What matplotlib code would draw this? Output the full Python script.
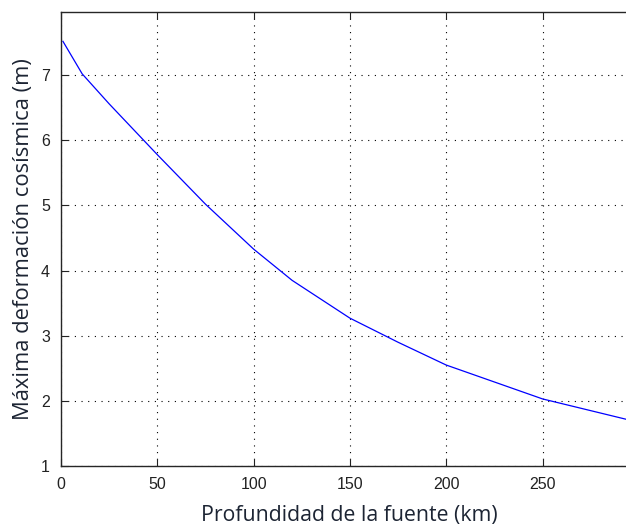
import matplotlib
matplotlib.use("Agg")
import matplotlib.pyplot as plt

depth_km = [1, 11, 25, 50, 75, 100, 120, 150, 175, 200, 250, 300]
max_def_m = [7.52, 7.02, 6.56, 5.78, 5.02, 4.33, 3.85, 3.27, 2.90, 2.55, 2.03, 1.67]
xticks = [0, 50, 100, 150, 200, 250]
yticks = [1, 2, 3, 4, 5, 6, 7]

fig = plt.figure(figsize=(6.26, 5.26), dpi=100)
ax = fig.add_axes([61/626, 60/526, 1 - 61/626 + 0.002, (466-12)/526])

ax.plot(depth_km, max_def_m, color=(0, 0, 1), lw=0.9)
ax.set_xlim(0, 294)
ax.set_ylim(1, 7.97)
ax.set_xticks(xticks)
ax.set_yticks(yticks)
ax.grid(True, color='black', linestyle=(0, (1, 5)), linewidth=0.8)
ax.tick_params(direction='in', length=5, width=0.8, top=True, labelsize=11.5,
               colors='#222222', pad=8)
for lab in ax.get_xticklabels() + ax.get_yticklabels():
    lab.set_family('Liberation Sans')
for s in ['left', 'bottom', 'top']:
    ax.spines[s].set_color('#262626')
    ax.spines[s].set_linewidth(1.0)
ax.spines['right'].set_visible(False)

ax.set_xlabel('Profundidad de la fuente (km)', fontsize=15.3, family='Open Sans',
              color='#1c2433')
ax.xaxis.set_label_coords(0.51, -0.085)
ax.set_ylabel('Máxima deformación cosísmica (m)', fontsize=15.8, family='Open Sans',
              color='#1c2433', labelpad=5)

fig.savefig('out.png', dpi=100)
